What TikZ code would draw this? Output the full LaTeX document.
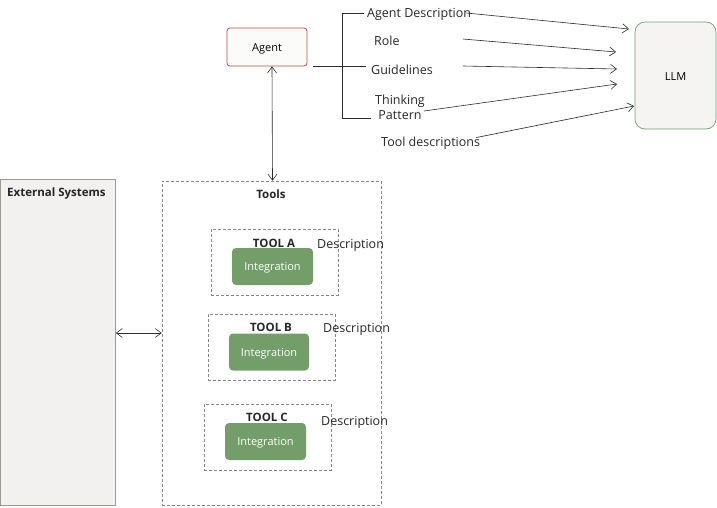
\documentclass[tikz,border=0pt]{standalone}
\usepackage{fontspec}
\setmainfont{Open Sans}
\usepackage{tikz}
\usetikzlibrary{positioning,arrows.meta,calc}
\definecolor{agentred}{HTML}{C74634}
\definecolor{llmgreen}{HTML}{759C6C}
\definecolor{intgreen}{HTML}{739E6A}
\definecolor{paper}{HTML}{F5F4F2}
\definecolor{extfill}{HTML}{F3F1EF}
\definecolor{extline}{HTML}{9E9892}
\definecolor{dashgray}{HTML}{8A8580}
\definecolor{ink}{HTML}{2A2A2A}

\begin{document}
\begin{tikzpicture}[x=1pt,y=-1pt,
  font=\fontsize{12.5}{14}\selectfont,
  agentbox/.style={draw=agentred,line width=0.8pt,rounded corners=3pt,fill=paper!40,minimum width=80pt,minimum height=38pt,text height=11pt,text depth=2.5pt,font=\fontsize{11}{13}\selectfont},
  llmbox/.style={draw=llmgreen,line width=0.7pt,rounded corners=10pt,fill=paper,minimum width=81pt,minimum height=107pt,text height=11pt,text depth=1pt,font=\fontsize{11}{13}\selectfont},
  extbox/.style={draw=extline,line width=0.7pt,fill=extfill,minimum width=115pt,minimum height=326pt},
  dbox/.style={draw=dashgray,line width=0.6pt,dash pattern=on 3pt off 2pt},
  intbox/.style={fill=intgreen,rounded corners=4pt,text=white,minimum width=81pt,minimum height=37pt,text height=11pt,text depth=2.5pt,font=\fontsize{11}{13}\selectfont},
  ttl/.style={font=\fontsize{11.5}{13}\selectfont\bfseries,text=black!85,yshift=-1.5pt},
  lbl/.style={inner sep=1pt,text=black!85,yshift=-1.5pt},
  line/.style={draw=ink,line width=0.6pt},
  arr/.style={-{Straight Barb[length=6pt,width=9pt]},draw=ink,line width=0.6pt},
  darr/.style={{Straight Barb[length=6pt,width=9pt]}-{Straight Barb[length=6pt,width=9pt]},draw=ink,line width=0.6pt}]
\useasboundingbox (0,0) rectangle (717,507);
% agent and llm
\node[agentbox] (agent) at (267,47) {Agent};
\node[llmbox] (llm) at (675.5,75.5) {LLM};
% prompt parts
\node[lbl,anchor=west] (adesc) at (366,13) {Agent Description};
\node[lbl,anchor=west] (role) at (373,39) {Role};
\node[lbl,anchor=west] (guide) at (370,68) {Guidelines};
\node[lbl,align=center,font=\fontsize{12.5}{15}\selectfont] (think) at (400,106) {Thinking\\ Pattern};
\node[lbl,anchor=west] (tdesc) at (380,142) {Tool descriptions};
\coordinate (brktop) at (342,13);
\coordinate (brkbot) at (342,118);
\draw[line] (agent.east) ++(6,19) -- ([xshift=-4pt]guide.west |- brktop |- 0,66);
\draw[line] ([xshift=-2pt]adesc.west |- brktop) -- (brktop) -- (brkbot) -- ([xshift=-3pt]brkbot -| think.west);
\coordinate (in1) at (629,29);
\coordinate (in2) at (616,52);
\coordinate (in3) at (617,69);
\coordinate (in4) at (617,84);
\coordinate (in5) at (634,106);
\draw[arr] ([xshift=-6pt,yshift=1.5pt]adesc.east) -- (in1);
\draw[arr] ([xshift=62pt,yshift=1.5pt]role.east) -- (in2);
\draw[arr] ([xshift=29pt]guide.east |- 0,66) -- (in3);
\draw[arr] ([xshift=-2pt]think.east |- 0,111) -- (in4);
\draw[arr] ([xshift=-5pt,yshift=-1.5pt]tdesc.north east) -- (in5);
% external systems
\node[extbox] (ext) at (58,342) {};
\node[anchor=west,ttl,inner sep=0pt] (extl) at (7,192) {External Systems};
% tools
\node[dbox,minimum width=219pt,minimum height=324pt] (tools) at (271.5,343) {};
\node[ttl] (toolsl) at (271,193) {Tools};
\draw[darr] ([xshift=5pt]agent.south) -- ([xshift=1pt]tools.north);
\draw[darr] (ext.east |- 0,333) -- (tools.west |- 0,333);
% tool a
\node[dbox,minimum width=127pt,minimum height=66pt] (toola) at (274.5,262) {};
\node[ttl] (toolal) at (274,242) {TOOL A};
\node[intbox] (inta) at (272.5,266.5) {Integration};
\node[lbl,anchor=west] (desca) at (316,244) {Description};
% tool b
\node[dbox,minimum width=127pt,minimum height=66pt] (toolb) at (271.5,347) {};
\node[ttl] (toolbl) at (271,326) {TOOL B};
\node[intbox,minimum width=80pt] (intb) at (269,352) {Integration};
\node[lbl,anchor=west] (descb) at (322,328) {Description};
% tool c
\node[dbox,minimum width=127pt,minimum height=66pt] (toolc) at (267.5,437) {};
\node[ttl] (toolcl) at (267,416) {TOOL C};
\node[intbox] (intc) at (265.5,441.5) {Integration};
\node[lbl,anchor=west] (descc) at (320,421) {Description};
\end{tikzpicture}
\end{document}
